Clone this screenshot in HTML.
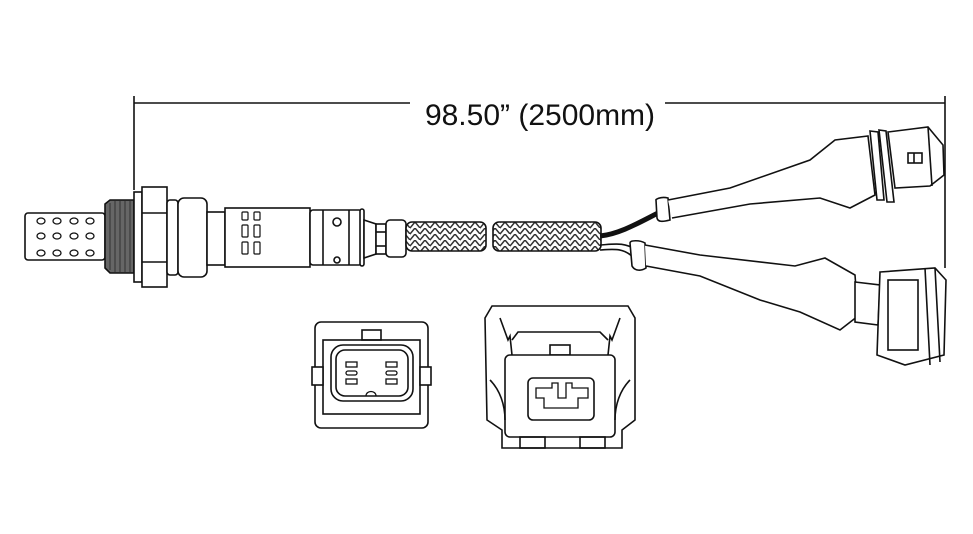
<!DOCTYPE html>
<html><head><style>body{margin:0;background:#fff}svg{display:block}</style></head><body>
<svg width="973" height="534" viewBox="0 0 973 534" xmlns="http://www.w3.org/2000/svg">
<defs>
<pattern id="br" width="10" height="6" patternUnits="userSpaceOnUse">
<rect width="10" height="6" fill="#fff"/>
<path d="M0 6 L5 0 M5 0 L10 6 M-2 3 L0 0 M10 6 L12 3" stroke="#333" stroke-width="1.5" fill="none"/>
</pattern>
</defs>
<g stroke="#111" stroke-width="1.6" fill="none">
<line x1="134" y1="96" x2="134" y2="190"/>
<line x1="945" y1="96" x2="945" y2="268"/>
<line x1="134" y1="103" x2="410" y2="103"/>
<line x1="665" y1="103" x2="945" y2="103"/>
<rect x="25" y="213" width="80" height="47" rx="3" fill="#fff"/>
<g stroke-width="1.3">
<ellipse cx="41" cy="221" rx="4" ry="3"/><ellipse cx="57" cy="221" rx="4" ry="3"/><ellipse cx="74" cy="221" rx="4" ry="3"/><ellipse cx="90" cy="221" rx="4" ry="3"/>
<ellipse cx="41" cy="236" rx="4" ry="3"/><ellipse cx="57" cy="236" rx="4" ry="3"/><ellipse cx="74" cy="236" rx="4" ry="3"/><ellipse cx="90" cy="236" rx="4" ry="3"/>
<ellipse cx="41" cy="253" rx="4" ry="3"/><ellipse cx="57" cy="253" rx="4" ry="3"/><ellipse cx="74" cy="253" rx="4" ry="3"/><ellipse cx="90" cy="253" rx="4" ry="3"/>
</g>
<path d="M105 204 L110 200 L134 200 L134 273 L110 273 L105 268 Z" fill="#666"/>
<path d="M110 203 L110 270 M115 201 L115 272 M120 201 L120 272 M125 201 L125 272 M130 201 L130 272" stroke="#333" stroke-width="1"/>
<rect x="134" y="192" width="8" height="90" fill="#fff"/>
<rect x="142" y="187" width="25" height="100" fill="#fff"/>
<line x1="142" y1="213" x2="167" y2="213"/><line x1="142" y1="262" x2="167" y2="262"/>
<rect x="167" y="200" width="11" height="75" rx="3" fill="#fff"/>
<rect x="178" y="198" width="29" height="79" rx="6" fill="#fff"/>
<rect x="207" y="212" width="18" height="53" fill="#fff"/>
<rect x="225" y="208" width="85" height="59" fill="#fff"/>
<g stroke-width="1.2">
<rect x="242" y="212" width="6" height="8" rx="1"/><rect x="254" y="212" width="6" height="8" rx="1"/>
<rect x="242" y="225" width="6" height="12" rx="1"/><rect x="254" y="225" width="6" height="12" rx="1"/>
<rect x="242" y="242" width="6" height="12" rx="1"/><rect x="254" y="242" width="6" height="12" rx="1"/>
</g>
<rect x="310" y="210" width="52" height="55" rx="3" fill="#fff"/>
<line x1="323" y1="210" x2="323" y2="265"/><line x1="349" y1="210" x2="349" y2="265"/>
<circle cx="337" cy="222" r="4"/><circle cx="337" cy="260" r="3"/>
<rect x="360" y="209" width="4" height="57" rx="2" fill="#fff"/>
<path d="M364 220 L376 224 L376 254 L364 258 Z" fill="#fff"/>
<rect x="376" y="224" width="10" height="30" fill="#fff"/>
<line x1="376" y1="232" x2="386" y2="232"/><line x1="376" y1="246" x2="386" y2="246"/>
<rect x="386" y="220" width="20" height="37" rx="4" fill="#fff"/>
<rect x="406" y="222" width="80" height="29" rx="6" fill="url(#br)"/>
<rect x="493" y="222" width="108" height="29" rx="6" fill="url(#br)"/>
<path d="M600 236 C620 234 640 222 660 212" stroke="#111" stroke-width="5"/>
<path d="M600 245 C615 244 625 242 636 250"/>
<path d="M600 250 C615 249 624 248 634 258"/>
<path d="M656 200 C655 200 660 196 668 198 L670 220 C662 222 658 222 657 218 Z" fill="#fff"/>
<path d="M668 200 L730 188 L810 160 L835 140 L868 136 L875 195 L850 208 L820 198 L750 204 L672 218" fill="#fff"/>
<path d="M870 131 L878 132 L884 200 L877 200 Z" fill="#fff"/>
<path d="M879 130 L886 131 L894 202 L887 202 Z" fill="#fff"/>
<path d="M888 132 L928 127 L943 145 L944 175 L930 186 L895 188 Z" fill="#fff"/>
<path d="M928 127 L932 186"/>
<rect x="908" y="153" width="14" height="10"/><line x1="914" y1="153" x2="914" y2="163"/>
<path d="M630 243 C630 240 640 240 645 243 L646 268 C640 272 634 270 632 266 Z" fill="#fff"/>
<path d="M645 245 L700 255 L795 266 L825 258 L855 275 L858 316 L840 330 L800 312 L760 300 L700 276 L646 266" fill="#fff"/>
<path d="M855 282 L880 285 L878 325 L855 322 Z" fill="#fff"/>
<path d="M880 272 L935 268 L946 280 L944 355 L905 365 L877 355 Z" fill="#fff"/>
<rect x="888" y="280" width="30" height="70"/>
<path d="M925 268 L930 365 M935 268 L940 362"/>
<rect x="315" y="322" width="113" height="106" rx="6" fill="#fff"/>
<rect x="323" y="340" width="97" height="74"/>
<rect x="362" y="330" width="19" height="10"/>
<rect x="312" y="367" width="11" height="18" fill="#fff"/><rect x="420" y="367" width="11" height="18" fill="#fff"/>
<rect x="331" y="345" width="82" height="56" rx="12"/>
<rect x="336" y="350" width="72" height="46" rx="9"/>
<g stroke-width="1.3">
<rect x="346" y="362" width="11" height="5"/><rect x="346" y="371" width="11" height="4" rx="2"/><rect x="346" y="379" width="11" height="5"/>
<rect x="386" y="362" width="11" height="5"/><rect x="386" y="371" width="11" height="4" rx="2"/><rect x="386" y="379" width="11" height="5"/>
<path d="M366 396 C366 390 376 390 376 396"/>
</g>
<path d="M485 318 L492 306 L628 306 L635 318 L635 420 L622 430 L622 448 L502 448 L502 430 L487 420 Z" fill="#fff"/>
<path d="M500 318 L508 340 L510 336 L512 355 M620 318 L612 340 L610 336 L608 355"/>
<path d="M512 340 L518 332 L600 332 L608 340"/>
<rect x="550" y="345" width="20" height="10"/>
<rect x="505" y="355" width="110" height="82" rx="5" fill="#fff"/>
<path d="M490 380 C500 390 505 405 505 420 M630 380 C620 390 615 405 615 420"/>
<rect x="528" y="378" width="66" height="42" rx="5"/>
<path d="M536 388 L552 388 L552 383 L558 383 L558 398 L566 398 L566 383 L572 383 L572 388 L588 388 L588 398 L578 398 L578 408 L544 408 L544 398 L536 398 Z" stroke-width="1.3"/>
<rect x="520" y="437" width="25" height="11"/><rect x="580" y="437" width="25" height="11"/>
</g>
<text x="540" y="125" text-anchor="middle" font-family="Liberation Sans, sans-serif" font-size="30" fill="#111">98.50” (2500mm)</text>
</svg>
</body></html>
